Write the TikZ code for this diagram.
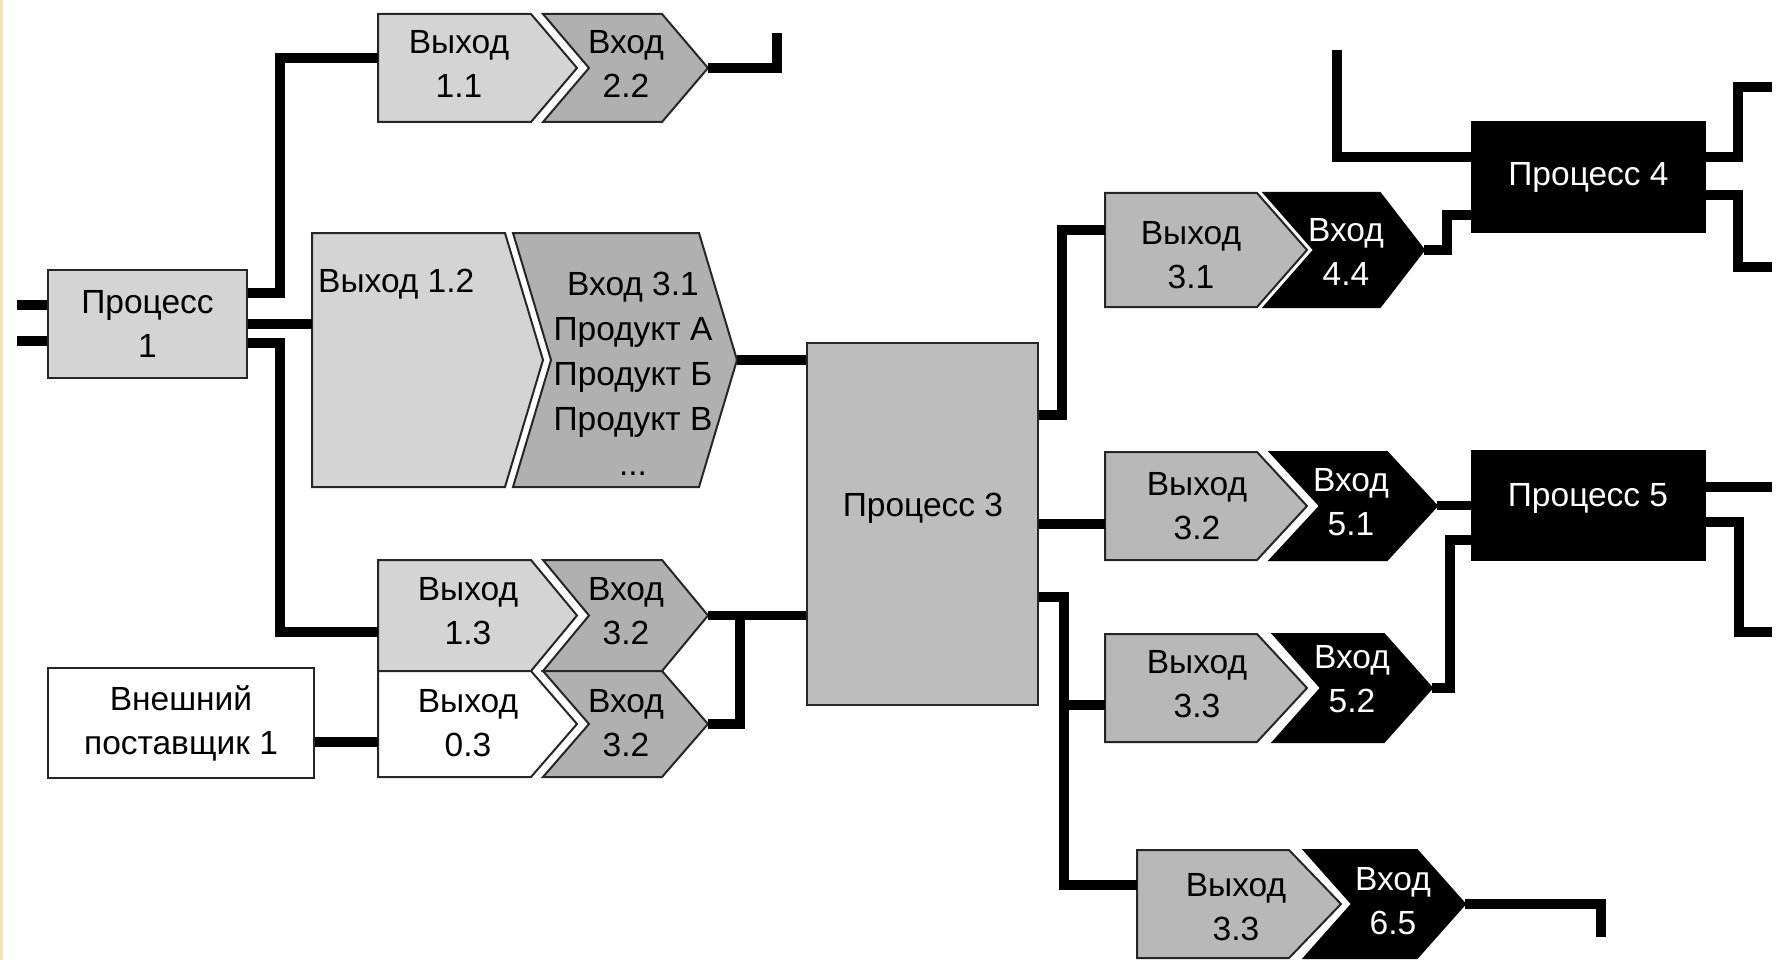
\documentclass[tikz,border=0pt]{standalone}
\usepackage{fontspec}
\setmainfont{Liberation Sans}
\definecolor{litegray}{HTML}{D4D4D4}
\definecolor{midgray}{HTML}{B0B0B0}
\definecolor{pgray}{HTML}{BDBDBD}
\definecolor{outgray}{HTML}{B8B8B8}
\definecolor{edgestrip}{HTML}{F3E3B5}
\newcommand\dtf{\fontsize{33.5}{44}\selectfont}
\begin{document}
\begin{tikzpicture}[x=1pt,y=-1pt,
  wire/.style={line width=9.5pt, line join=miter},
  shp/.style={draw=black!85, line width=2pt, line join=miter},
  lite/.style={shp, fill=litegray},
  midg/.style={shp, fill=midgray},
  outg/.style={shp, fill=outgray},
  wht/.style={shp, fill=white},
  blk/.style={draw=black, line width=2pt, line join=miter, fill=black},
  txt/.style={font=\dtf, align=center, inner sep=0pt},
  wtxt/.style={txt, text=white},
  procbox/.style={shp, inner sep=0pt, font=\dtf, align=center},
]
\useasboundingbox (0,0) rectangle (1779,960);
\fill[white] (0,0) rectangle (1779,960);
\fill[edgestrip] (0,0) rectangle (3,960);

% ---------- process boxes ----------
\node[procbox, fill=litegray, minimum width=199pt, minimum height=108pt] (p1) at (147.5,324) {Процесс\\1};
\node[procbox, fill=white, minimum width=266pt, minimum height=110pt] (ext) at (181,723) {Внешний\\поставщик 1};
\node[procbox, fill=pgray, minimum width=231pt, minimum height=362pt] (p3) at (922.5,524) {};
\node[txt] (t3) at (923,508) {Процесс 3};
\node[procbox, fill=black, draw=black, text=white, minimum width=233pt, minimum height=110pt] (p4) at (1588.5,177) {Процесс 4};
\node[procbox, fill=black, draw=black, minimum width=233pt, minimum height=109pt] (p5) at (1588.5,505.5) {};
\node[wtxt] (t5) at (1588,498) {Процесс 5};

% ---------- left pairs ----------
% Выход 1.1 / Вход 2.2
\filldraw[lite] (378,14) -- (531,14) -- (577,68) -- (531,122) -- (378,122) -- cycle;
\filldraw[midg] (543,14) -- (662,14) -- (708,68) -- (662,122) -- (543,122) -- (589,68) -- cycle;
\coordinate (o11w) at (378,58);
\coordinate (i22e) at (708,68);
\coordinate (i22end) at (777,33);
\node[txt] (t11) at (459,63.5) {Выход\\1.1};
\node[txt] (t22) at (626,63.5) {Вход\\2.2};

% Выход 1.2 / Вход 3.1
\filldraw[lite] (312,233) -- (505,233) -- (543,360) -- (505,487) -- (312,487) -- cycle;
\filldraw[midg] (513,233) -- (699,233) -- (737,360) -- (699,487) -- (513,487) -- (551,360) -- cycle;
\coordinate (o12w) at (312,324);
\coordinate (i31e) at (737,360);
\node[txt, anchor=west] (t12) at (318,284) {Выход 1.2};
\node[txt, font=\fontsize{33.5}{45}\selectfont] (t31) at (633,374) {Вход 3.1\\Продукт А\\Продукт Б\\Продукт В\\...};

% Выход 1.3 / Выход 0.3 / Вход 3.2 (x2)
\filldraw[lite] (378,560) -- (531,560) -- (577,615.5) -- (531,671) -- (378,671) -- cycle;
\filldraw[wht] (378,671) -- (531,671) -- (577,724) -- (531,777) -- (378,777) -- cycle;
\filldraw[midg] (543,560) -- (662,560) -- (708,615.5) -- (662,671) -- (543,671) -- (589,615.5) -- cycle;
\filldraw[midg] (543,671) -- (662,671) -- (708,724) -- (662,777) -- (543,777) -- (589,724) -- cycle;
\coordinate (o13w) at (378,632);
\coordinate (o03w) at (378,742);
\coordinate (i32ae) at (708,615.5);
\coordinate (i32be) at (708,724);
\coordinate (j32) at (740,615.5);
\node[txt] (t13) at (468,611) {Выход\\1.3};
\node[txt] (t03) at (468,723) {Выход\\0.3};
\node[txt] (t32a) at (626,611) {Вход\\3.2};
\node[txt] (t32b) at (626,723) {Вход\\3.2};

% ---------- right pairs ----------
% Выход 3.1 / Вход 4.4
\filldraw[outg] (1105,193) -- (1257,193) -- (1307,250) -- (1257,307) -- (1105,307) -- cycle;
\filldraw[blk] (1264,193) -- (1380,193) -- (1424,250) -- (1380,307) -- (1264,307) -- (1314,250) -- cycle;
\coordinate (o31w) at (1105,230);
\coordinate (i44e) at (1424,250);
\node[txt] (t31o) at (1191,255) {Выход\\3.1};
\node[wtxt] (t44) at (1346,251.5) {Вход\\4.4};

% Выход 3.2 / Вход 5.1
\filldraw[outg] (1105,452) -- (1257,452) -- (1307,506) -- (1257,560) -- (1105,560) -- cycle;
\filldraw[blk] (1270,452) -- (1387,452) -- (1437,506) -- (1387,560) -- (1270,560) -- (1320,506) -- cycle;
\coordinate (o32w) at (1105,524);
\coordinate (i51e) at (1437,505.5);
\node[txt] (t32o) at (1197,506.5) {Выход\\3.2};
\node[wtxt] (t51) at (1351,502.5) {Вход\\5.1};

% Выход 3.3 / Вход 5.2
\filldraw[outg] (1105,634) -- (1257,634) -- (1307,688) -- (1257,742) -- (1105,742) -- cycle;
\filldraw[blk] (1273,634) -- (1384,634) -- (1432,688) -- (1384,742) -- (1273,742) -- (1321,688) -- cycle;
\coordinate (o33w) at (1105,705);
\coordinate (i52e) at (1432,688);
\node[txt] (t33o) at (1197,684) {Выход\\3.3};
\node[wtxt] (t52) at (1352,679) {Вход\\5.2};

% Выход 3.3 / Вход 6.5
\filldraw[outg] (1137,850) -- (1289,850) -- (1341,904) -- (1289,958) -- (1137,958) -- cycle;
\filldraw[blk] (1304,850) -- (1417,850) -- (1465,904) -- (1417,958) -- (1304,958) -- (1352,904) -- cycle;
\coordinate (o33bw) at (1137,885);
\coordinate (i65e) at (1465,904);
\coordinate (i65end) at (1601,937);
\node[txt] (t33b) at (1236,907) {Выход\\3.3};
\node[wtxt] (t65) at (1393,901) {Вход\\6.5};

% free ends
\coordinate (l1) at (17,305);
\coordinate (l2) at (17,341);
\coordinate (p4in) at (1337,50);
\coordinate (p4o1) at (1772,87);
\coordinate (p4o2) at (1772,267);
\coordinate (p5o1) at (1772,487);
\coordinate (p5o2) at (1772,632);

% ---------- connectors ----------
\draw[wire] (l1) -- ([yshift=19pt]p1.west);
\draw[wire] (l2) -- ([yshift=-17pt]p1.west);
\draw[wire] ([yshift=31pt]p1.east) -- ++(32,0) |- (o11w);
\draw[wire] (p1.east) -- (o12w);
\draw[wire] ([yshift=-19pt]p1.east) -- ++(32,0) |- (o13w);
\draw[wire] ([yshift=-19pt]ext.east) -- (o03w);
\draw[wire] (i22e) -| (i22end);
\draw[wire] (i31e) -- ([yshift=164pt]p3.west);
\draw[wire] (i32ae) -- (j32) -- ([yshift=-91.5pt]p3.west);
\draw[wire] (i32be) -| (j32);

\draw[wire] ([yshift=109pt]p3.east) -- ++(23,0) |- (o31w);
\draw[wire] (p3.east) -- (o32w);
\draw[wire] ([yshift=-73pt]p3.east) -- ++(25,0) coordinate (j3) |- (o33bw);
\draw[wire] (j3 |- o33w) -- (o33w);

\draw[wire] (i44e) -- ++(23,0) |- ([yshift=-38pt]p4.west);
\draw[wire] (p4in) |- ([yshift=20pt]p4.west);
\draw[wire] ([yshift=20pt]p4.east) -- ++(32,0) |- (p4o1);
\draw[wire] ([yshift=-18pt]p4.east) -- ++(32,0) |- (p4o2);

\draw[wire] (i51e) -- (p5.west);
\draw[wire] (i52e) -- ++(18,0) |- ([yshift=-34.5pt]p5.west);
\draw[wire] ([yshift=18.5pt]p5.east) -- (p5o1);
\draw[wire] ([yshift=-16.5pt]p5.east) -- ++(33,0) |- (p5o2);

\draw[wire] (i65e) -| (i65end);
\end{tikzpicture}
\end{document}
